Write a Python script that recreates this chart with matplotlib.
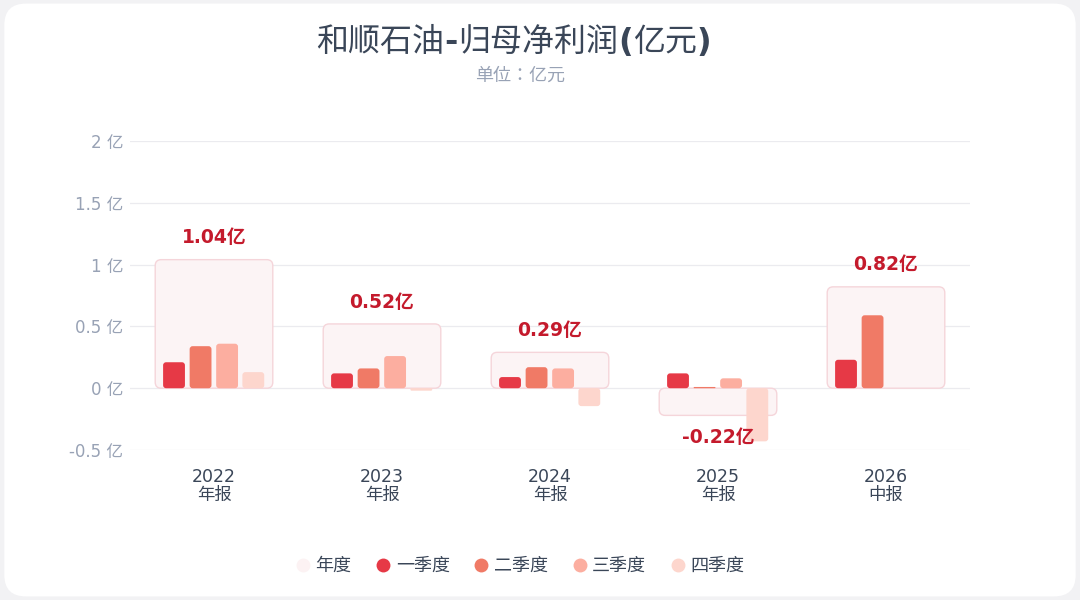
import numpy as np
import matplotlib.pyplot as plt
from matplotlib.patches import FancyBboxPatch
from matplotlib.lines import Line2D

plt.rcParams['font.family'] = ['DejaVu Sans', 'Noto Sans CJK SC']

# data (亿元)
years = ["2022", "2023", "2024", "2025", "2026"]
report = ["年报", "年报", "年报", "年报", "中报"]
annual = [1.04, 0.52, 0.29, -0.22, 0.82]
q1 = [0.21, 0.12, 0.09, 0.12, 0.23]
q2 = [0.34, 0.16, 0.17, 0.01, 0.59]
q3 = [0.36, 0.26, 0.16, 0.08, None]
q4 = [0.13, -0.02, -0.145, -0.43, None]
yticks = [-0.5, 0, 0.5, 1, 1.5, 2]
ytick_labels = ["-0.5 亿", "0 亿", "0.5 亿", "1 亿", "1.5 亿", "2 亿"]

colors = ["#e63946", "#f07a66", "#fcaea0", "#fdd6cd"]
annual_face = "#fcf4f5"
annual_edge = "#f5d5da"
label_red = "#c41a2c"
text_dark = "#3a4658"
text_gray = "#98a2b5"

fig = plt.figure(figsize=(10.8, 6), dpi=100)
fig.patch.set_facecolor("#f2f2f4")
card = FancyBboxPatch((0.004, 0.006), 0.992, 0.988, boxstyle="round,pad=0,rounding_size=0.02",
                      transform=fig.transFigure, facecolor="white", edgecolor="none",
                      mutation_aspect=1.8, zorder=-5)
fig.patches.append(card)

ax = fig.add_axes([130/1080, 150/600, 840/1080, 309/600])
ax.set_facecolor("none")
ax.set_xlim(-0.5, 4.5)
ax.set_ylim(-0.5, 2)
x = np.arange(len(years))

# pixels per data unit, for rounded corners
px_x = 840 / 5
px_y = 309 / 2.5


def round_bars(bars, r_px):
    for b in bars:
        b.set_visible(False)
        bx, by = b.get_x(), b.get_y()
        w, h = b.get_width(), b.get_height()
        if h < 0:
            by, h = by + h, -h
        r = min(r_px / px_x, w / 2, h * px_y / px_x / 2)
        p = FancyBboxPatch((bx, by), w, h, boxstyle=f"round,pad=0,rounding_size={r}",
                           mutation_aspect=px_x / px_y, facecolor=b.get_facecolor(),
                           edgecolor=b.get_edgecolor(), linewidth=b.get_linewidth(),
                           zorder=b.get_zorder())
        ax.add_patch(p)


# annual background boxes
bars = ax.bar(x, annual, width=0.70, color=annual_face, edgecolor=annual_edge, linewidth=1, zorder=1)
round_bars(bars, 6)

# quarterly bars
offsets = [-0.238, -0.08, 0.078, 0.234]
for i, q in enumerate([q1, q2, q3, q4]):
    xs = [xi + offsets[i] for xi, v in zip(x, q) if v is not None]
    vs = [v for v in q if v is not None]
    bars = ax.bar(xs, vs, width=0.13, color=colors[i], zorder=2 if i < 3 else 3, linewidth=0)
    round_bars(bars, 3)

# annual labels
for xi, v in zip(x, annual):
    if v >= 0:
        ax.text(xi, v + 0.1, f"{v:.2f}亿", ha="center", va="bottom", color=label_red,
                fontsize=13.5, fontweight="bold", zorder=5)
    else:
        ax.text(xi, v - 0.1, f"{v:.2f}亿", ha="center", va="top", color=label_red,
                fontsize=13.5, fontweight="bold", zorder=5)

ax.set_yticks(yticks)
ax.set_yticklabels(ytick_labels)
ax.set_xticks(x)
ax.set_xticklabels([f"{y}\n{r}" for y, r in zip(years, report)])
ax.tick_params(axis="y", length=0, labelsize=12, labelcolor=text_gray, pad=5)
ax.tick_params(axis="x", length=0, labelsize=12.5, labelcolor=text_dark, pad=13)
for lbl in ax.get_xticklabels():
    lbl.set_linespacing(1.0)
ax.grid(axis="y", color="#ebebef", linewidth=0.9, zorder=0)
ax.set_axisbelow(True)
for s in ax.spines.values():
    s.set_visible(False)

# title: CJK regular, ascii punctuation bold
title_parts = [("和顺石油", "normal"), ("-", "bold"), ("归母净利润", "normal"),
               ("(", "bold"), ("亿元", "normal"), (")", "bold")]
renderer = fig.canvas.get_renderer()
pieces = []
for s, wgt in title_parts:
    t = fig.text(0, 1 - 42/600, s, ha="left", va="center", fontsize=23,
                 fontweight=wgt, color=text_dark)
    pieces.append(t)
widths = [t.get_window_extent(renderer).width for t in pieces]
start = 514 - sum(widths) / 2
for t, w in zip(pieces, widths):
    t.set_x(start / 1080)
    start += w

fig.text(520/1080, 1 - 76/600, "单位：亿元", ha="center", va="center", fontsize=13,
         color=text_gray, family=["Noto Sans CJK JP", "DejaVu Sans"])

handles = [Line2D([], [], marker="o", linestyle="none", markersize=10,
                  markerfacecolor=c, markeredgecolor="none")
           for c in ["#fcf2f3"] + colors]
names = ["年度", "一季度", "二季度", "三季度", "四季度"]
fig.legend(handles, names, loc="center", bbox_to_anchor=(520/1080, 1 - 566/600), ncol=5,
           frameon=False, fontsize=13, labelcolor=text_dark, handlelength=0.8,
           handletextpad=0.3, columnspacing=1.35)

fig.savefig("out.png", dpi=100, facecolor=fig.get_facecolor())
